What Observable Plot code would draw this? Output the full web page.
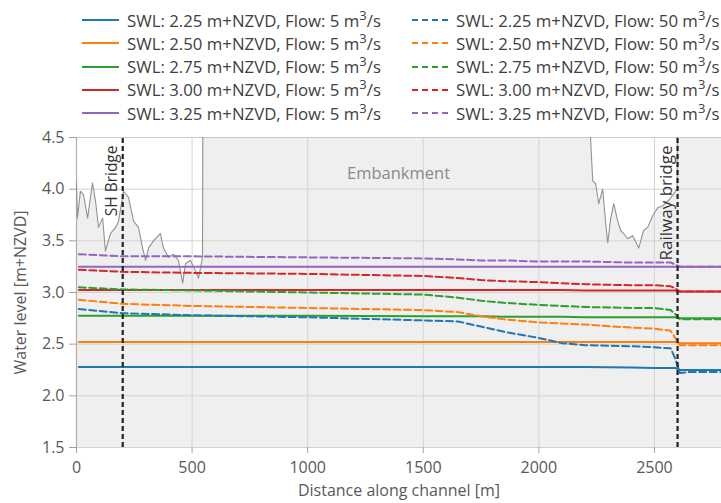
<!DOCTYPE html>
<html>
<head>
<meta charset="utf-8">
<script src="https://cdn.jsdelivr.net/npm/d3@7"></script>
<script src="https://cdn.jsdelivr.net/npm/@observablehq/plot@0.6"></script>
<style>
  html, body { margin: 0; padding: 0; background: #fff; }
  body { width: 721px; height: 503px; overflow: hidden; font-family: "Open Sans", sans-serif; }
  #legend { position: relative; width: 721px; height: 127px; }
  .item { position: absolute; display: flex; align-items: center; font-size: 16.8px; color: #404040; white-space: nowrap; }
  .sw { width: 37px; height: 0; margin-right: 8px; border-top-width: 2px; }
  sup { font-size: 13px; line-height: 0; vertical-align: 7px; }
</style>
</head>
<body>
<div id="legend"></div>
<div id="chart"></div>
<script>
// ---------- data ----------
const swlLabels = ["2.25", "2.50", "2.75", "3.00", "3.25"];
const flows = [5, 50];
const colors = ["#1f77b4", "#ff7f0e", "#2ca02c", "#d62728", "#9467bd"];

// distance along channel for the water-level profiles
const dist = [10, 200, 500, 1000, 1500, 1650, 1750, 1850, 2000, 2100, 2200, 2400, 2500, 2570, 2590, 2610, 2650, 2800];

// Flow 5 m3/s (solid)
const swl225_q5 = [2.28, 2.28, 2.28, 2.28, 2.28, 2.28, 2.28, 2.28, 2.28, 2.28, 2.28, 2.275, 2.27, 2.27, 2.27, 2.25, 2.25, 2.25];
const swl250_q5 = [2.52, 2.52, 2.52, 2.52, 2.52, 2.52, 2.52, 2.52, 2.52, 2.52, 2.52, 2.52, 2.52, 2.52, 2.52, 2.51, 2.51, 2.51];
const swl275_q5 = [2.775, 2.775, 2.775, 2.775, 2.77, 2.77, 2.77, 2.765, 2.765, 2.765, 2.76, 2.76, 2.76, 2.76, 2.76, 2.75, 2.75, 2.75];
const swl300_q5 = [3.025, 3.025, 3.025, 3.025, 3.025, 3.025, 3.025, 3.025, 3.025, 3.025, 3.02, 3.02, 3.02, 3.02, 3.02, 3.01, 3.01, 3.01];
const swl325_q5 = [3.25, 3.25, 3.25, 3.25, 3.25, 3.25, 3.25, 3.25, 3.25, 3.25, 3.25, 3.25, 3.25, 3.25, 3.25, 3.25, 3.25, 3.25];

// Flow 50 m3/s (dashed)
const swl225_q50 = [2.84, 2.80, 2.78, 2.76, 2.73, 2.72, 2.67, 2.62, 2.56, 2.51, 2.49, 2.48, 2.47, 2.46, 2.36, 2.22, 2.23, 2.23];
const swl250_q50 = [2.93, 2.89, 2.87, 2.85, 2.83, 2.81, 2.77, 2.74, 2.71, 2.70, 2.69, 2.66, 2.65, 2.63, 2.56, 2.49, 2.49, 2.49];
const swl275_q50 = [3.05, 3.03, 3.02, 3.00, 2.98, 2.95, 2.92, 2.90, 2.88, 2.87, 2.86, 2.85, 2.85, 2.83, 2.79, 2.74, 2.74, 2.74];
const swl300_q50 = [3.22, 3.20, 3.19, 3.18, 3.16, 3.14, 3.12, 3.11, 3.10, 3.09, 3.08, 3.07, 3.07, 3.06, 3.04, 3.01, 3.01, 3.01];
const swl325_q50 = [3.37, 3.35, 3.35, 3.34, 3.33, 3.32, 3.31, 3.31, 3.30, 3.30, 3.30, 3.29, 3.29, 3.29, 3.27, 3.25, 3.25, 3.25];

// ground / bank profile (embankment heights above the axis are clipped)
const groundX = [0, 4, 17, 30, 48, 69, 82, 95, 113, 125, 147, 169, 182, 203, 225, 247, 268, 286, 299, 312, 333, 363, 376, 398, 420, 441, 459, 472, 493, 515, 528, 545,
                 547, 2222, 2224, 2233, 2246, 2259, 2276, 2289, 2298, 2311, 2324, 2341, 2354, 2367, 2384, 2406, 2432, 2453, 2471, 2492, 2514, 2536, 2565, 2598, 2600, 2800];
const groundY = [4.06, 3.72, 3.98, 3.95, 3.72, 4.06, 3.89, 3.63, 3.72, 3.40, 3.57, 3.63, 3.69, 3.98, 3.92, 3.69, 3.63, 3.43, 3.31, 3.43, 3.50, 3.57, 3.43, 3.34, 3.37, 3.31, 3.09, 3.28, 3.31, 3.21, 3.14, 3.34,
                 5.0, 5.0, 4.47, 4.08, 4.05, 3.86, 4.00, 3.67, 3.48, 3.72, 3.86, 3.69, 3.60, 3.57, 3.52, 3.55, 3.43, 3.60, 3.63, 3.74, 3.82, 3.84, 3.90, 4.00, 5.0, 5.0];

const bridgeX = [200, 2600];
const bridgeNames = ["SH Bridge", "Railway bridge"];
const xTicks = [0, 500, 1000, 1500, 2000, 2500];
const yTicks = [1.5, 2.0, 2.5, 3.0, 3.5, 4.0, 4.5];
const xDomain = [0, 2790];
const yDomain = [1.5, 4.5];

// ---------- build tables ----------
const seriesQ5 = [swl225_q5, swl250_q5, swl275_q5, swl300_q5, swl325_q5];
const seriesQ50 = [swl225_q50, swl250_q50, swl275_q50, swl300_q50, swl325_q50];
function rows(series, flow) {
  const out = [];
  series.forEach((vals, k) => vals.forEach((v, i) => out.push({x: dist[i], y: v, k, key: swlLabels[k] + "-" + flow})));
  return out;
}
const solidRows = rows(seriesQ5, 5);
const dashRows = rows(seriesQ50, 50);
const ground = groundX.map((x, i) => ({x, y: groundY[i]}));
const bridges = bridgeX.map((x, i) => ({x, name: bridgeNames[i]}));

// ---------- legend ----------
const legend = document.getElementById("legend");
flows.forEach((f, c) => {
  swlLabels.forEach((s, r) => {
    const it = document.createElement("div");
    it.className = "item";
    it.style.left = (c === 0 ? 82 : 412) + "px";
    it.style.top = (20 + r * 23.3 - 11) + "px";
    it.style.height = "22px";
    const sw = document.createElement("div");
    sw.className = "sw";
    sw.style.borderTopStyle = c === 0 ? "solid" : "dashed";
    sw.style.borderTopColor = colors[r];
    if (c === 1) sw.style.width = "36px";
    it.appendChild(sw);
    const t = document.createElement("span");
    t.innerHTML = `SWL: ${s} m+NZVD, Flow: ${f} m<sup>3</sup>/s`;
    it.appendChild(t);
    legend.appendChild(it);
  });
});

// ---------- chart ----------
const colorOf = d => colors[d.k];
const chart = Plot.plot({
  width: 721,
  height: 376,
  marginLeft: 76,
  marginRight: 0,
  marginTop: 10,
  marginBottom: 56,
  style: {fontFamily: "Open Sans, sans-serif", fontSize: "16px", color: "#595959", background: "#fff"},
  x: {domain: xDomain, ticks: xTicks},
  y: {domain: yDomain, ticks: yTicks},
  marks: [
    Plot.areaY(ground, {x: "x", y1: () => yDomain[0], y2: "y", fill: "#efefef", clip: true, curve: "linear"}),
    Plot.gridX(xTicks, {stroke: "#d3d3d3", strokeOpacity: 1, strokeWidth: 1}),
    Plot.gridY(yTicks, {stroke: "#d3d3d3", strokeOpacity: 1, strokeWidth: 1}),
    Plot.ruleY([yDomain[1]], {stroke: "#c8c8c8", strokeWidth: 1.2}),
    Plot.ruleX([xDomain[0]], {stroke: "#b0b0b0", strokeWidth: 1.2}),
    Plot.line(ground, {x: "x", y: "y", stroke: "#929292", strokeWidth: 1.1, clip: true}),
    Plot.line(solidRows, {x: "x", y: "y", z: "key", stroke: colorOf, strokeWidth: 2}),
    Plot.line(dashRows, {x: "x", y: "y", z: "key", stroke: colorOf, strokeWidth: 2, strokeDasharray: "7,3.5"}),
    Plot.ruleX(bridges, {x: "x", y1: yDomain[0], y2: yDomain[1], stroke: "#222", strokeWidth: 2.2, strokeDasharray: "5,3"}),
    Plot.text(bridges, {x: "x", y: () => yDomain[1], text: "name", rotate: -90, textAnchor: "end", lineAnchor: "middle",
                        dx: -11, dy: 8, fill: "#333", fontSize: d => d.x < 1000 ? 15.5 : 17}),
    Plot.text(["Embankment"], {x: () => 1393, y: () => 4.15, text: d => d, fill: "#8a8a8a", fontSize: 16.5}),
    Plot.axisY({ticks: yTicks, tickFormat: d3.format(".1f"), tickSize: 7, tickPadding: 5, stroke: "#a0a0a0",
                label: "Water level [m+NZVD]", labelAnchor: "center", labelArrow: "none", labelOffset: 62}),
    Plot.axisX({ticks: xTicks, tickFormat: d3.format("d"), tickSize: 6, tickPadding: 8, stroke: "#a0a0a0",
                label: "Distance along channel [m]", labelAnchor: "center", labelArrow: "none", labelOffset: 48})
  ]
});
document.getElementById("chart").appendChild(chart);
</script>
</body>
</html>
